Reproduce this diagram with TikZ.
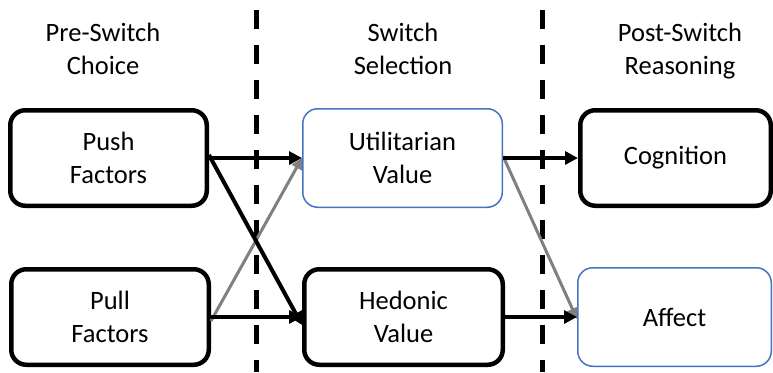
\documentclass[tikz,border=0pt]{standalone}
\usepackage{fontspec}
\setmainfont{Carlito}
\usetikzlibrary{arrows.meta}

\begin{document}
\begin{tikzpicture}[x=1pt,y=-1pt,
	stage/.style={font=\fontsize{26.5}{33}\selectfont,align=center,anchor=base},
	blackbox/.style={draw=black,line width=4.5pt,rounded corners=15pt,minimum height=95.5pt,font=\fontsize{26.5}{33}\selectfont,align=center},
	bluebox/.style={draw=blueline,line width=1.5pt,rounded corners=15pt,minimum height=98.5pt,font=\fontsize{26.5}{33}\selectfont,align=center},
	divider/.style={line width=5pt,dash pattern=on 19pt off 16pt},
	blackarrow/.style={line width=4pt,-{Triangle[length=13pt,width=13pt]}},
	greyarrow/.style={draw=gray,line width=3pt,-{Triangle[length=11pt,width=11pt]}}]
	\definecolor{blueline}{RGB}{68,114,196}
	\useasboundingbox[fill=white] (0,0) rectangle (773,372);

	\node[stage] (pre) at (103,74) {Pre-Switch\\Choice};
	\node[stage] (sel) at (403,74) {Switch\\Selection};
	\node[stage] (post) at (680,74) {Post-Switch\\Reasoning};

	\draw[divider] (256,10) -- (256,372);
	\draw[divider] (542,10) -- (542,372);

	\node[blackbox,minimum width=196.5pt] (push) at (108.5,158) {Push\\Factors};
	\node[blackbox,minimum width=197.5pt] (pull) at (110,317) {Pull\\Factors};
	\node[bluebox,minimum width=199.5pt] (util) at (402.5,158) {Utilitarian\\Value};
	\node[blackbox,minimum width=198.5pt] (hedo) at (403.5,317) {Hedonic\\Value};
	\node[blackbox,minimum width=190.5pt] (cogn) at (675.5,158) {Cognition};
	\node[bluebox,minimum width=193.5pt] (affe) at (674.5,317) {Affect};

	\draw[greyarrow] ([yshift=-4pt]pull.east) -- (util.west);
	\draw[greyarrow] ([yshift=2pt]util.east) -- ([yshift=-2pt]affe.west);
	\draw[blackarrow] (push.east) -- (util.west);
	\draw[blackarrow] ([yshift=3pt]push.east) -- ([yshift=-8pt]hedo.west);
	\draw[blackarrow] (pull.east) -- (hedo.west);
	\draw[blackarrow] (util.east) -- (cogn.west);
	\draw[blackarrow] (hedo.east) -- (affe.west);
\end{tikzpicture}
\end{document}
